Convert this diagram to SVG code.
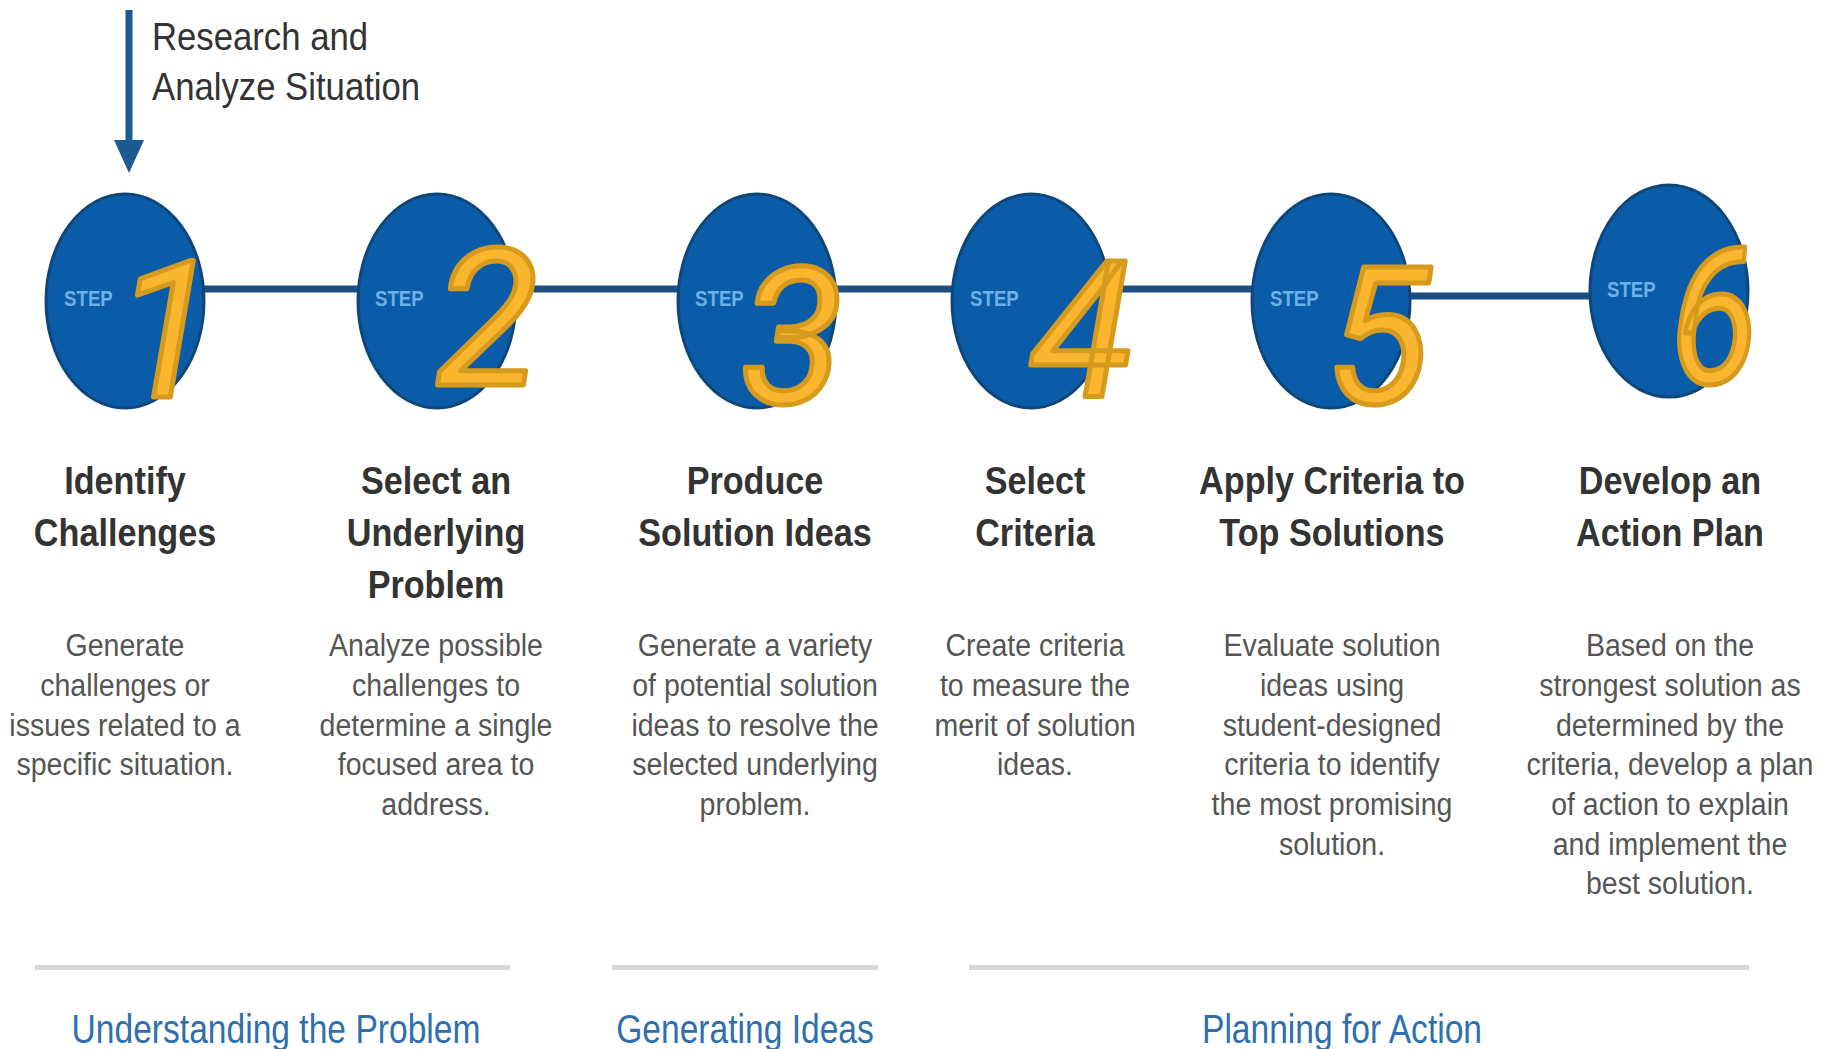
<svg xmlns="http://www.w3.org/2000/svg" width="1831" height="1049" viewBox="0 0 1831 1049">
<style>
.bg{fill:#ffffff}
.conn{stroke:#1d4f80;stroke-width:7;fill:none}
.arrow{stroke:#1d5a92;stroke-width:7;fill:none}
.arrowhead{fill:#1d5a92}
.circ{fill:#0b5ca8;stroke:#0f4678;stroke-width:3}
.step{font-family:"Liberation Sans",Arial,sans-serif;font-size:22px;font-weight:700;fill:#6cb0ea}
.num{font-family:Roboto,"Liberation Sans",Arial,sans-serif;font-size:190px;font-weight:400;font-style:italic;fill:#fbb62f;stroke:#d69a1c;stroke-width:5;stroke-linejoin:round;text-anchor:middle}
.title{font-family:"Liberation Sans",Arial,sans-serif;font-size:38px;font-weight:700;fill:#333333;text-anchor:middle}
.desc{font-family:"Liberation Sans",Arial,sans-serif;font-size:31px;fill:#555555;text-anchor:middle}
.top{font-family:"Liberation Sans",Arial,sans-serif;font-size:39px;fill:#333333}
.bar{fill:#d8d8d8}
.phase{font-family:"Liberation Sans",Arial,sans-serif;font-size:40px;fill:#2f6fad;text-anchor:middle}
</style>
<rect class="bg" x="0" y="0" width="1831" height="1049"/>

<g id="connectors">
  <line class="arrow" x1="129" y1="10" x2="129" y2="150"/>
  <polygon class="arrowhead" points="114,140 144,140 129,173"/>
  <line class="conn" x1="200" y1="289" x2="360" y2="289"/>
  <line class="conn" x1="515" y1="289" x2="680" y2="289"/>
  <line class="conn" x1="835" y1="289" x2="955" y2="289"/>
  <line class="conn" x1="1108" y1="289" x2="1255" y2="289"/>
  <line class="conn" x1="1408" y1="296" x2="1592" y2="296"/>
</g>

<g id="label-research">
  <g transform="translate(152,0) scale(0.89,1)">
    <text class="top" x="0" y="50">Research and</text>
    <text class="top" x="0" y="100">Analyze Situation</text>
  </g>
</g>

<g id="step1">
  <ellipse class="circ" cx="125" cy="301" rx="79" ry="107"/>
  <text class="step" x="64" y="306" transform="translate(64,0) scale(0.85,1) translate(-64,0)">STEP</text>
  <text class="num" x="166" y="397">1</text>
  <g transform="translate(125,0) scale(0.9,1)">
    <text class="title" x="0" y="494">Identify</text>
    <text class="title" x="0" y="546">Challenges</text>
  </g>
  <g transform="translate(125,0) scale(0.92,1)">
    <text class="desc" x="0" y="656">Generate</text>
    <text class="desc" x="0" y="696">challenges or</text>
    <text class="desc" x="0" y="736">issues related to a</text>
    <text class="desc" x="0" y="775">specific situation.</text>
  </g>
</g>

<g id="step2">
  <ellipse class="circ" cx="437" cy="301" rx="79" ry="107"/>
  <text class="step" x="375" y="306" transform="translate(375,0) scale(0.85,1) translate(-375,0)">STEP</text>
  <text class="num" x="487" y="385">2</text>
  <g transform="translate(436,0) scale(0.9,1)">
    <text class="title" x="0" y="494">Select an</text>
    <text class="title" x="0" y="546">Underlying</text>
    <text class="title" x="0" y="598">Problem</text>
  </g>
  <g transform="translate(436,0) scale(0.92,1)">
    <text class="desc" x="0" y="656">Analyze possible</text>
    <text class="desc" x="0" y="696">challenges to</text>
    <text class="desc" x="0" y="736">determine a single</text>
    <text class="desc" x="0" y="775">focused area to</text>
    <text class="desc" x="0" y="815">address.</text>
  </g>
</g>

<g id="step3">
  <ellipse class="circ" cx="757" cy="301" rx="79" ry="107"/>
  <text class="step" x="695" y="306" transform="translate(695,0) scale(0.85,1) translate(-695,0)">STEP</text>
  <text class="num" x="792" y="403">3</text>
  <g transform="translate(755,0) scale(0.9,1)">
    <text class="title" x="0" y="494">Produce</text>
    <text class="title" x="0" y="546">Solution Ideas</text>
  </g>
  <g transform="translate(755,0) scale(0.92,1)">
    <text class="desc" x="0" y="656">Generate a variety</text>
    <text class="desc" x="0" y="696">of potential solution</text>
    <text class="desc" x="0" y="736">ideas to resolve the</text>
    <text class="desc" x="0" y="775">selected underlying</text>
    <text class="desc" x="0" y="815">problem.</text>
  </g>
</g>

<g id="step4">
  <ellipse class="circ" cx="1031" cy="301" rx="79" ry="107"/>
  <text class="step" x="970" y="306" transform="translate(970,0) scale(0.85,1) translate(-970,0)">STEP</text>
  <text class="num" x="1082" y="397">4</text>
  <g transform="translate(1035,0) scale(0.9,1)">
    <text class="title" x="0" y="494">Select</text>
    <text class="title" x="0" y="546">Criteria</text>
  </g>
  <g transform="translate(1035,0) scale(0.92,1)">
    <text class="desc" x="0" y="656">Create criteria</text>
    <text class="desc" x="0" y="696">to measure the</text>
    <text class="desc" x="0" y="736">merit of solution</text>
    <text class="desc" x="0" y="775">ideas.</text>
  </g>
</g>

<g id="step5">
  <ellipse class="circ" cx="1331" cy="301" rx="79" ry="107"/>
  <text class="step" x="1270" y="306" transform="translate(1270,0) scale(0.85,1) translate(-1270,0)">STEP</text>
  <text class="num" x="1378" y="403">5</text>
  <g transform="translate(1332,0) scale(0.9,1)">
    <text class="title" x="0" y="494">Apply Criteria to</text>
    <text class="title" x="0" y="546">Top Solutions</text>
  </g>
  <g transform="translate(1332,0) scale(0.92,1)">
    <text class="desc" x="0" y="656">Evaluate solution</text>
    <text class="desc" x="0" y="696">ideas using</text>
    <text class="desc" x="0" y="736">student-designed</text>
    <text class="desc" x="0" y="775">criteria to identify</text>
    <text class="desc" x="0" y="815">the most promising</text>
    <text class="desc" x="0" y="855">solution.</text>
  </g>
</g>

<g id="step6">
  <ellipse class="circ" cx="1669" cy="291" rx="79" ry="106"/>
  <text class="step" x="1607" y="297" transform="translate(1607,0) scale(0.85,1) translate(-1607,0)">STEP</text>
  <text class="num" x="1714" y="383" transform="translate(1714,0) scale(0.85,1) translate(-1714,0)">6</text>
  <g transform="translate(1670,0) scale(0.9,1)">
    <text class="title" x="0" y="494">Develop an</text>
    <text class="title" x="0" y="546">Action Plan</text>
  </g>
  <g transform="translate(1670,0) scale(0.92,1)">
    <text class="desc" x="0" y="656">Based on the</text>
    <text class="desc" x="0" y="696">strongest solution as</text>
    <text class="desc" x="0" y="736">determined by the</text>
    <text class="desc" x="0" y="775">criteria, develop a plan</text>
    <text class="desc" x="0" y="815">of action to explain</text>
    <text class="desc" x="0" y="855">and implement the</text>
    <text class="desc" x="0" y="894">best solution.</text>
  </g>
</g>

<g id="phase-understanding">
  <rect class="bar" x="35" y="965" width="475" height="5"/>
  <g transform="translate(276,0) scale(0.84,1)">
    <text class="phase" x="0" y="1043">Understanding the Problem</text>
  </g>
</g>
<g id="phase-generating">
  <rect class="bar" x="612" y="965" width="266" height="5"/>
  <g transform="translate(745,0) scale(0.84,1)">
    <text class="phase" x="0" y="1043">Generating Ideas</text>
  </g>
</g>
<g id="phase-planning">
  <rect class="bar" x="969" y="965" width="780" height="5"/>
  <g transform="translate(1342,0) scale(0.84,1)">
    <text class="phase" x="0" y="1043">Planning for Action</text>
  </g>
</g>
</svg>
